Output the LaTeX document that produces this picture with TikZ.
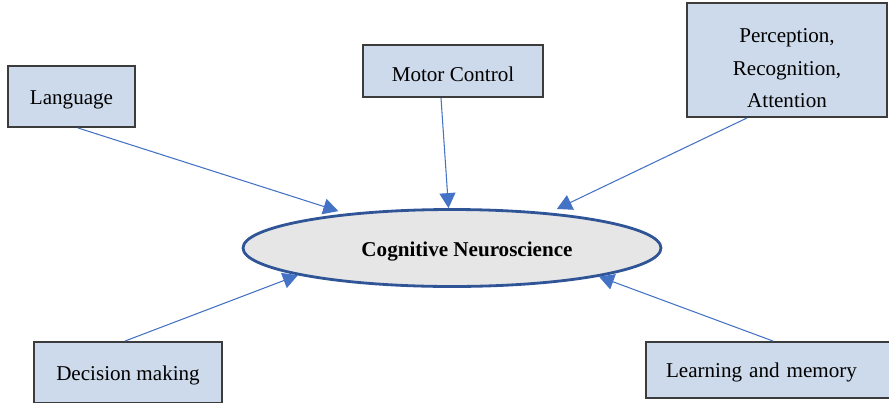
\documentclass[tikz,border=0pt]{standalone}
\usepackage{fontspec}
\setmainfont{Liberation Serif}
\usetikzlibrary{calc, shapes, arrows.meta}

\definecolor{boxblue}{RGB}{205,218,235}
\definecolor{boxedge}{RGB}{60,60,60}
\definecolor{linkblue}{RGB}{68,114,196}
\definecolor{hubedge}{RGB}{47,85,151}
\definecolor{hubfill}{RGB}{231,230,230}

\tikzset{
	area/.style={rectangle, draw=boxedge, line width=1.1pt, fill=boxblue, font=\fontsize{12}{18.7}\selectfont, align=center},
	oneline/.style={text height=11.6pt, text depth=2.6pt},
	feed/.style={-{Triangle[length=0.3cm, width=0.32cm]}, color=linkblue, line width=0.6pt},
}

\begin{document}
\begin{tikzpicture}
	
	\useasboundingbox (0,0) rectangle (17.78,8.04);
	
	% central ellipse
	\node[ellipse, draw=hubedge, fill=hubfill, line width=1.6pt, minimum width=8.36cm, minimum height=1.54cm] (cns) at (9.04,3.08) {};
	\node[font=\fontsize{12}{14.4}\selectfont\bfseries] (cnslabel) at ($(cns.center)+(0.3,-0.08)$) {Cognitive Neuroscience};
	
	% the five fields around it
	\node[area, oneline, minimum width=2.54cm, minimum height=1.22cm] (lang) at (1.43,6.11) {Language};
	\node[area, text height=12.2pt, text depth=0pt, minimum width=3.6cm, minimum height=1.04cm] (motor) at (9.06,6.62) {Motor Control};
	\node[area, minimum width=4.0cm, minimum height=2.28cm] (perc) at (15.74,6.84) {\rule{0pt}{17.2pt}Perception,\\ Recognition,\\ Attention};
	\node[area, oneline, minimum width=3.76cm, minimum height=1.22cm] (dec) at (2.56,0.59) {Decision making};
	\node[area, oneline, text width=4.16cm, inner xsep=0.4cm, align=left, minimum height=1.12cm] (learn) at (15.4,0.64) {Learning and memory};
	
	\draw[feed, shorten >=0.16cm] ([xshift=0.13cm]lang.south) -- (cns.162.7);
	\draw[feed] ([xshift=-0.24cm]motor.south) -- (cns.95.6);
	\draw[feed, shorten >=0.17cm] ([xshift=-0.8cm]perc.south) -- (cns.20.2);
	\draw[feed] ([xshift=-0.06cm]dec.north) -- (cns.190.9);
	\draw[feed] ([xshift=0.06cm]learn.north) -- (cns.349.9);
	
\end{tikzpicture}
\end{document}
